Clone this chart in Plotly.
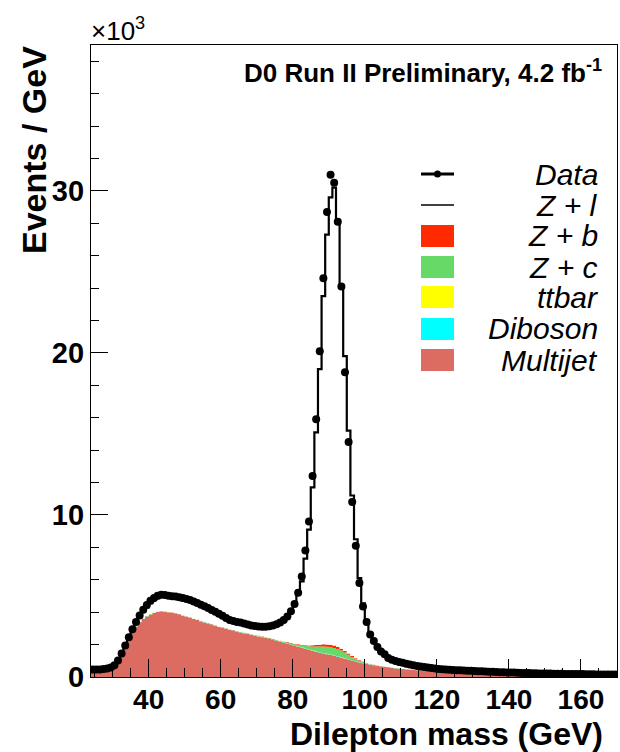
import plotly.graph_objects as go

# ---------------- data (thousands of events / GeV), 1-GeV bins from 24 to 170 GeV ----------------
mass_edges = list(range(24, 171))

data = [
    0.46, 0.47, 0.47, 0.49, 0.52, 0.58,                              # 24-29
    0.72, 1.02, 1.45, 1.95, 2.45, 2.95, 3.40, 3.80, 4.15, 4.45,      # 30-39
    4.70, 4.88, 5.02, 5.08, 5.06, 5.02, 4.99, 4.96, 4.92, 4.87,      # 40-49
    4.82, 4.75, 4.66, 4.56, 4.46, 4.36, 4.26, 4.14, 4.02, 3.90,      # 50-59
    3.78, 3.64, 3.52, 3.45, 3.40, 3.36, 3.30, 3.24, 3.18, 3.15,      # 60-69
    3.12, 3.10, 3.10, 3.13, 3.18, 3.25, 3.36, 3.52, 3.74, 4.05,      # 70-79
    4.50, 5.20, 6.20, 7.80, 9.60, 12.40, 15.90, 20.10, 24.60, 28.70, # 80-89
    31.00, 30.50, 28.10, 24.10, 18.80, 14.50, 10.80, 8.10, 5.80, 4.35, # 90-99
    3.40, 2.62, 2.22, 1.85, 1.58, 1.40, 1.18, 1.06, 0.99, 0.93,      # 100-109
    0.88, 0.82, 0.77, 0.72, 0.68, 0.65, 0.61, 0.58, 0.55, 0.52,      # 110-119
    0.50, 0.48, 0.46, 0.45, 0.43, 0.42, 0.41, 0.40, 0.39, 0.38,      # 120-129
    0.37, 0.36, 0.35, 0.34, 0.33, 0.32, 0.31, 0.30, 0.29, 0.28,      # 130-139
    0.27, 0.27, 0.26, 0.25, 0.25, 0.24, 0.23, 0.23, 0.22, 0.22,      # 140-149
    0.21, 0.21, 0.20, 0.20, 0.20, 0.19, 0.19, 0.19, 0.18, 0.18,      # 150-159
    0.18, 0.17, 0.17, 0.17, 0.16, 0.16, 0.16, 0.16, 0.15, 0.15,      # 160-169
]

# total expectation (top of the stack, i.e. including Z + light jets)
mc_total = [
    0.46, 0.46, 0.47, 0.48, 0.51, 0.57,
    0.72, 1.02, 1.50, 1.95, 2.42, 2.90, 3.32, 3.70, 4.02, 4.30,
    4.55, 4.74, 4.87, 4.94, 4.94, 4.91, 4.88, 4.84, 4.80, 4.75,
    4.70, 4.63, 4.55, 4.46, 4.37, 4.28, 4.18, 4.07, 3.96, 3.85,
    3.73, 3.62, 3.52, 3.44, 3.37, 3.31, 3.26, 3.21, 3.17, 3.14,
    3.12, 3.11, 3.12, 3.15, 3.20, 3.28, 3.40, 3.56, 3.78, 4.08,
    4.50, 5.10, 5.90, 7.30, 9.10, 11.70, 15.10, 19.00, 23.50, 27.30,
    29.60, 30.20, 28.10, 24.00, 19.80, 15.20, 11.20, 8.50, 6.10, 4.55,
    3.50, 2.72, 2.25, 1.88, 1.60, 1.40, 1.20, 1.08, 1.00, 0.94,
    0.88, 0.82, 0.77, 0.73, 0.69, 0.65, 0.62, 0.59, 0.56, 0.53,
    0.51, 0.49, 0.47, 0.45, 0.44, 0.42, 0.41, 0.40, 0.39, 0.38,
    0.37, 0.36, 0.35, 0.34, 0.33, 0.32, 0.31, 0.30, 0.29, 0.29,
    0.28, 0.27, 0.26, 0.26, 0.25, 0.24, 0.24, 0.23, 0.23, 0.22,
    0.22, 0.21, 0.21, 0.20, 0.20, 0.20, 0.19, 0.19, 0.19, 0.18,
    0.18, 0.18, 0.17, 0.17, 0.17, 0.16, 0.16, 0.16, 0.16, 0.15,
]

multijet = [
    0.38, 0.38, 0.39, 0.40, 0.42, 0.45,
    0.55, 0.95, 1.45, 1.90, 2.35, 2.75, 3.10, 3.38, 3.58, 3.74,
    3.86, 3.95, 4.01, 4.04, 4.03, 4.00, 3.96, 3.91, 3.85, 3.78,
    3.71, 3.65, 3.58, 3.51, 3.44, 3.37, 3.30, 3.23, 3.16, 3.09,
    3.02, 2.96, 2.90, 2.85, 2.80, 2.75, 2.70, 2.65, 2.60, 2.55,
    2.50, 2.45, 2.40, 2.34, 2.28, 2.22, 2.16, 2.10, 2.04, 1.98,
    1.92, 1.86, 1.80, 1.74, 1.68, 1.62, 1.56, 1.50, 1.45, 1.40,
    1.35, 1.30, 1.25, 1.20, 1.14, 1.08, 1.02, 0.96, 0.90, 0.85,
    0.80, 0.76, 0.72, 0.68, 0.64, 0.61, 0.58, 0.55, 0.53, 0.51,
    0.49, 0.47, 0.45, 0.44, 0.42, 0.41, 0.40, 0.39, 0.38, 0.37,
    0.36, 0.35, 0.34, 0.33, 0.32, 0.31, 0.30, 0.30, 0.29, 0.28,
    0.28, 0.27, 0.26, 0.26, 0.25, 0.24, 0.24, 0.23, 0.23, 0.22,
    0.21, 0.21, 0.20, 0.20, 0.19, 0.19, 0.18, 0.18, 0.17, 0.17,
    0.16, 0.16, 0.16, 0.15, 0.15, 0.15, 0.14, 0.14, 0.14, 0.13,
    0.13, 0.13, 0.12, 0.12, 0.12, 0.11, 0.11, 0.11, 0.10, 0.10,
]

diboson = [
    0.003, 0.003, 0.003, 0.003, 0.003, 0.003,
    0.003, 0.003, 0.003, 0.003, 0.003, 0.003, 0.003, 0.003, 0.003, 0.003,
    0.003, 0.003, 0.003, 0.003, 0.003, 0.003, 0.003, 0.003, 0.003, 0.003,
    0.003, 0.003, 0.003, 0.003, 0.003, 0.003, 0.003, 0.003, 0.003, 0.003,
    0.004, 0.004, 0.004, 0.004, 0.004, 0.004, 0.004, 0.004, 0.004, 0.004,
    0.005, 0.005, 0.005, 0.005, 0.005, 0.006, 0.006, 0.007, 0.008, 0.009,
    0.010, 0.011, 0.012, 0.014, 0.016, 0.018, 0.020, 0.022, 0.024, 0.025,
    0.026, 0.026, 0.025, 0.023, 0.021, 0.018, 0.015, 0.012, 0.010, 0.008,
    0.007, 0.006, 0.005, 0.005, 0.004, 0.004, 0.004, 0.003, 0.003, 0.003,
    0.003, 0.003, 0.003, 0.003, 0.003, 0.003, 0.003, 0.003, 0.003, 0.003,
    0.002, 0.002, 0.002, 0.002, 0.002, 0.002, 0.002, 0.002, 0.002, 0.002,
    0.002, 0.002, 0.002, 0.002, 0.002, 0.002, 0.002, 0.002, 0.002, 0.002,
    0.002, 0.002, 0.002, 0.002, 0.002, 0.002, 0.002, 0.002, 0.002, 0.002,
    0.002, 0.002, 0.002, 0.002, 0.002, 0.002, 0.002, 0.002, 0.002, 0.002,
    0.002, 0.002, 0.002, 0.002, 0.002, 0.002, 0.002, 0.002, 0.002, 0.002,
]

ttbar = [
    0.002, 0.002, 0.002, 0.002, 0.002, 0.002,
    0.002, 0.002, 0.002, 0.002, 0.002, 0.003, 0.003, 0.003, 0.003, 0.003,
    0.003, 0.003, 0.003, 0.003, 0.004, 0.004, 0.004, 0.004, 0.004, 0.004,
    0.004, 0.004, 0.004, 0.004, 0.005, 0.005, 0.005, 0.005, 0.005, 0.005,
    0.005, 0.005, 0.005, 0.005, 0.005, 0.005, 0.005, 0.005, 0.005, 0.005,
    0.005, 0.005, 0.005, 0.005, 0.005, 0.005, 0.005, 0.005, 0.005, 0.005,
    0.005, 0.005, 0.005, 0.005, 0.005, 0.005, 0.005, 0.005, 0.005, 0.005,
    0.005, 0.005, 0.005, 0.005, 0.005, 0.005, 0.005, 0.005, 0.005, 0.005,
    0.005, 0.005, 0.005, 0.005, 0.005, 0.005, 0.005, 0.005, 0.005, 0.005,
    0.005, 0.005, 0.005, 0.005, 0.005, 0.005, 0.005, 0.005, 0.005, 0.005,
    0.005, 0.005, 0.005, 0.005, 0.005, 0.005, 0.005, 0.005, 0.005, 0.005,
    0.004, 0.004, 0.004, 0.004, 0.004, 0.004, 0.004, 0.004, 0.004, 0.004,
    0.004, 0.004, 0.004, 0.004, 0.004, 0.004, 0.004, 0.004, 0.004, 0.004,
    0.004, 0.004, 0.004, 0.004, 0.004, 0.004, 0.004, 0.004, 0.004, 0.004,
    0.003, 0.003, 0.003, 0.003, 0.003, 0.003, 0.003, 0.003, 0.003, 0.003,
]

z_c = [
    0.01, 0.01, 0.01, 0.01, 0.01, 0.01,
    0.01, 0.01, 0.02, 0.02, 0.02, 0.02, 0.02, 0.02, 0.02, 0.02,
    0.02, 0.02, 0.02, 0.02, 0.02, 0.02, 0.02, 0.02, 0.02, 0.02,
    0.02, 0.02, 0.02, 0.02, 0.02, 0.02, 0.02, 0.02, 0.02, 0.02,
    0.03, 0.03, 0.03, 0.03, 0.03, 0.03, 0.03, 0.03, 0.03, 0.03,
    0.04, 0.04, 0.04, 0.04, 0.05, 0.05, 0.05, 0.06, 0.07, 0.08,
    0.09, 0.10, 0.12, 0.15, 0.19, 0.24, 0.30, 0.36, 0.41, 0.44,
    0.46, 0.46, 0.44, 0.40, 0.34, 0.27, 0.20, 0.14, 0.10, 0.07,
    0.05, 0.04, 0.03, 0.03, 0.02, 0.02, 0.02, 0.02, 0.01, 0.01,
    0.01, 0.01, 0.01, 0.01, 0.01, 0.01, 0.01, 0.01, 0.01, 0.01,
    0.01, 0.01, 0.01, 0.01, 0.01, 0.01, 0.01, 0.01, 0.01, 0.01,
    0.01, 0.01, 0.01, 0.01, 0.01, 0.01, 0.01, 0.01, 0.01, 0.01,
    0.005, 0.005, 0.005, 0.005, 0.005, 0.005, 0.005, 0.005, 0.005, 0.005,
    0.005, 0.005, 0.005, 0.005, 0.005, 0.005, 0.005, 0.005, 0.005, 0.005,
    0.005, 0.005, 0.005, 0.005, 0.005, 0.005, 0.005, 0.005, 0.005, 0.005,
]

z_b = [
    0.005, 0.005, 0.005, 0.005, 0.005, 0.005,
    0.005, 0.005, 0.005, 0.005, 0.005, 0.005, 0.005, 0.005, 0.005, 0.005,
    0.005, 0.005, 0.005, 0.005, 0.005, 0.005, 0.005, 0.005, 0.005, 0.005,
    0.005, 0.005, 0.005, 0.005, 0.005, 0.005, 0.005, 0.005, 0.005, 0.005,
    0.005, 0.005, 0.005, 0.005, 0.005, 0.005, 0.005, 0.005, 0.005, 0.005,
    0.01, 0.01, 0.01, 0.01, 0.02, 0.02, 0.02, 0.02, 0.03, 0.03,
    0.03, 0.04, 0.04, 0.05, 0.06, 0.07, 0.09, 0.11, 0.13, 0.14,
    0.15, 0.15, 0.14, 0.12, 0.10, 0.08, 0.06, 0.04, 0.03, 0.02,
    0.02, 0.01, 0.01, 0.01, 0.005, 0.005, 0.005, 0.005, 0.005, 0.005,
    0.003, 0.003, 0.003, 0.003, 0.003, 0.003, 0.003, 0.003, 0.003, 0.003,
    0.002, 0.002, 0.002, 0.002, 0.002, 0.002, 0.002, 0.002, 0.002, 0.002,
    0.002, 0.002, 0.002, 0.002, 0.002, 0.002, 0.002, 0.002, 0.002, 0.002,
    0.002, 0.002, 0.002, 0.002, 0.002, 0.002, 0.002, 0.002, 0.002, 0.002,
    0.002, 0.002, 0.002, 0.002, 0.002, 0.002, 0.002, 0.002, 0.002, 0.002,
    0.002, 0.002, 0.002, 0.002, 0.002, 0.002, 0.002, 0.002, 0.002, 0.002,
]

legend_labels = ["Data", "Z + l", "Z + b", "Z + c", "ttbar", "Diboson", "Multijet"]
x_ticks = [40, 60, 80, 100, 120, 140, 160]
y_ticks = [0, 10, 20, 30]

nb = len(mass_edges) - 1
for arr in (data, mc_total, multijet, diboson, ttbar, z_c, z_b):
    assert len(arr) == nb, len(arr)

# ---------------- styling ----------------
FONT = "Liberation Sans, Arial, Helvetica, sans-serif"
COL = {"Multijet": "#dc6b62", "Diboson": "#00ffff", "ttbar": "#ffff00",
       "Z + c": "#66d966", "Z + b": "#ff2a00"}

W, H = 620, 752
L, R, T, B = 91, 3, 45, 75
PW, PH = W - L - R, H - T - B


def px(x):
    return (x - L) / PW


def py(y):
    return (H - B - y) / PH


def step(vals):
    return list(vals) + [vals[-1]]


fig = go.Figure()

# stacked backgrounds (bottom -> top)
stack = [("Multijet", multijet), ("Diboson", diboson), ("ttbar", ttbar),
         ("Z + c", z_c), ("Z + b", z_b)]
cum = [0.0] * nb
for i, (name, vals) in enumerate(stack):
    cum = [c + v for c, v in zip(cum, vals)]
    fig.add_trace(go.Scatter(
        x=mass_edges, y=step(cum), mode="lines", line=dict(width=0, shape="hv"),
        fill="tozeroy" if i == 0 else "tonexty", fillcolor=COL[name],
        showlegend=False, hoverinfo="skip"))

# Z + light (top of stack, white fill with black outline)
fig.add_trace(go.Scatter(
    x=mass_edges, y=step(mc_total), mode="lines",
    line=dict(width=2.2, color="black", shape="hv"),
    fill="tonexty", fillcolor="white", showlegend=False, hoverinfo="skip"))

# data
centers = [(a + b) / 2 for a, b in zip(mass_edges[:-1], mass_edges[1:])]
fig.add_trace(go.Scatter(
    x=centers, y=data, mode="markers",
    marker=dict(size=8, color="black"),
    error_x=dict(type="constant", value=0.5, width=0, thickness=2, color="black"),
    showlegend=False, hoverinfo="skip"))

# ---------------- manual legend ----------------
shapes = []
annotations = []
row_y = [174, 205, 236, 267, 297, 329, 360]
sx0, sx1 = 421, 454
for lab, yy in zip(legend_labels, row_y):
    if lab == "Data":
        shapes.append(dict(type="line", xref="paper", yref="paper",
                           x0=px(sx0), x1=px(sx1), y0=py(yy), y1=py(yy),
                           line=dict(color="black", width=3)))
        shapes.append(dict(type="circle", xref="paper", yref="paper",
                           x0=px(437.5 - 3.5), x1=px(437.5 + 3.5),
                           y0=py(yy + 3.5), y1=py(yy - 3.5),
                           fillcolor="black", line=dict(color="black", width=0)))
    elif lab == "Z + l":
        shapes.append(dict(type="line", xref="paper", yref="paper",
                           x0=px(sx0), x1=px(sx1), y0=py(yy), y1=py(yy),
                           line=dict(color="black", width=1.5)))
    else:
        shapes.append(dict(type="rect", xref="paper", yref="paper",
                           x0=px(sx0), x1=px(sx1), y0=py(yy + 11), y1=py(yy - 11),
                           fillcolor=COL[lab], line=dict(width=0)))
    annotations.append(dict(
        text=f"<i>{lab}</i>", xref="paper", yref="paper", x=px(600), y=py(yy),
        xanchor="right", yanchor="middle", showarrow=False,
        font=dict(family=FONT, size=30, color="black")))

# title, multiplier, axis titles
annotations.append(dict(
    text="<b>D0 Run II Preliminary, 4.2 fb<sup>-1</sup></b>", xref="paper", yref="paper",
    x=px(604), y=py(71), xanchor="right", yanchor="middle", showarrow=False,
    font=dict(family=FONT, size=26, color="black")))
annotations.append(dict(
    text="×10<sup>3</sup>", xref="paper", yref="paper",
    x=px(89), y=py(29), xanchor="left", yanchor="middle", showarrow=False,
    font=dict(family=FONT, size=26, color="black")))
annotations.append(dict(
    text="<b>Events / GeV</b>", xref="paper", yref="paper", textangle=-90,
    x=px(34), y=py(150), xanchor="center", yanchor="middle", showarrow=False,
    font=dict(family=FONT, size=34, color="black")))
annotations.append(dict(
    text="<b>Dilepton mass (GeV)</b>", xref="paper", yref="paper",
    x=px(604), y=py(753), xanchor="right", yanchor="bottom", showarrow=False,
    borderpad=0, font=dict(family=FONT, size=32, color="black")))

fig.update_layout(
    width=W, height=H, margin=dict(l=L, r=R, t=T, b=B),
    paper_bgcolor="white", plot_bgcolor="white",
    shapes=shapes, annotations=annotations, showlegend=False,
    font=dict(family=FONT, color="black"),
)
fig.update_xaxes(
    range=[24, 170], tickmode="array", tickvals=x_ticks,
    ticks="inside", ticklen=18, tickwidth=1.3, tickcolor="black",
    minor=dict(dtick=5, tick0=0, ticks="inside", ticklen=9, tickwidth=1.3, tickcolor="black"),
    showline=True, linecolor="black", linewidth=1.3, mirror=True,
    showgrid=False, zeroline=False, ticklabelstandoff=-3,
    tickfont=dict(family=FONT, size=28, color="black", weight="bold"),
)
fig.update_yaxes(
    range=[0, 39], tickmode="array", tickvals=y_ticks,
    ticks="inside", ticklen=17, tickwidth=1.3, tickcolor="black",
    minor=dict(dtick=2, tick0=0, ticks="inside", ticklen=8, tickwidth=1.3, tickcolor="black"),
    showline=True, linecolor="black", linewidth=1.3, mirror=True,
    showgrid=False, zeroline=False,
    tickfont=dict(family=FONT, size=29, color="black", weight="bold"),
)

fig.write_html("out.html")
